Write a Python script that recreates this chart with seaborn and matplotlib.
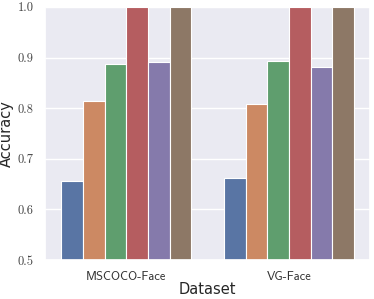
import numpy as np
import pandas as pd
import seaborn as sns
import matplotlib
import matplotlib.pyplot as plt

sns.set_theme(style='darkgrid', palette='deep')
plt.rcParams['font.family'] = ['DejaVu Sans']

# Data
datasets = ['MSCOCO-Face', 'VG-Face']
methods = ['M1', 'M2', 'M3', 'M4', 'M5', 'M6']
mscoco_acc = [0.656, 0.815, 0.887, 1.0, 0.892, 1.0]
vg_acc = [0.662, 0.808, 0.893, 1.0, 0.882, 1.0]

df = pd.DataFrame({
    'Dataset': [datasets[0]] * len(methods) + [datasets[1]] * len(methods),
    'Method': methods * 2,
    'Accuracy': mscoco_acc + vg_acc,
})

fig, ax = plt.subplots(figsize=(3.74, 2.99), dpi=100)
sns.barplot(data=df, x='Dataset', y='Accuracy', hue='Method', ax=ax,
            edgecolor='white', linewidth=0.8, legend=False)

ax.set_ylim(0.5, 1.0)
ax.set_yticks([0.5, 0.6, 0.7, 0.8, 0.9, 1.0])
ax.set_yticklabels(['0.5', '0.6', '0.7', '0.8', '0.9', '1.0'],
                   fontfamily='cmr10', fontsize=9, color='#444444')
ax.set_xticks([0, 1])
ax.set_xticklabels(datasets, fontfamily='cmss10', fontsize=9, color='#333333')
ax.tick_params(axis='both', pad=2)
ax.set_xlabel('Dataset', fontsize=10.5, labelpad=-1)
ax.set_ylabel('Accuracy', fontsize=10.5, labelpad=3)

fig.subplots_adjust(left=0.12, right=0.99, bottom=0.13, top=0.977)
fig.savefig('out.png', dpi=100)
